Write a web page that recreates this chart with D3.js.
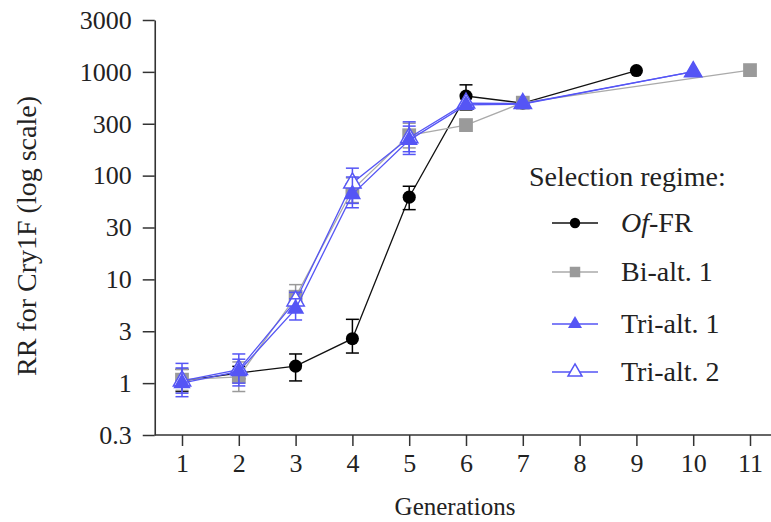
<!DOCTYPE html>
<html>
<head>
<meta charset="utf-8">
<script src="https://cdn.jsdelivr.net/npm/d3@7"></script>
<style>
  body { margin: 0; background: #fff; }
  svg text { font-family: "Liberation Serif", Tinos, "Times New Roman", "DejaVu Serif", serif; fill: #222; }
</style>
</head>
<body>
<div id="chart-area"></div>
<script>
// generations 1..11
var generations = [1, 2, 3, 4, 5, 6, 7, 8, 9, 10, 11];

// y ticks at half decades, labelled as in the figure
var yTickValues = [-0.5, 0, 0.5, 1, 1.5, 2, 2.5, 3, 3.5].map(function(e){ return Math.pow(10, e); });
var yTickLabels = ["0.3", "1", "3", "10", "30", "100", "300", "1000", "3000"];

// series: RR values, lower / upper error bar ends (null = no bar)
var ofGen = [1, 2, 3, 4, 5, 6, 7, 9];
var ofRR  = [1.05, 1.25, 1.46, 2.68, 62, 585, 500, 1030];
var ofLo  = [0.83, 1.1, 1.05, 1.95, 47, 430, null, null];
var ofHi  = [1.36, 1.45, 1.91, 4.12, 79, 750, null, null];

var biGen = [1, 2, 3, 4, 5, 6, 7, 11];
var biRR  = [1.08, 1.15, 6.8, 73, 245, 307, 505, 1040];
var biLo  = [0.85, 0.83, 5.6, 55, 185, null, null, null];
var biHi  = [1.35, 1.6, 8.9, 95, 320, null, null, null];

var tri1Gen = [1, 2, 3, 4, 5, 6, 7, 10];
var tri1RR  = [1.0, 1.3, 5.2, 66, 220, 480, 490, 1005];
var tri1Lo  = [0.74, 0.94, 4.06, 49, 160, null, null, null];
var tri1Hi  = [1.55, 1.91, 6.5, 97, 300, null, null, null];

var tri2Gen = [1, 2, 3, 4, 5, 6, 7, 10];
var tri2RR  = [1.05, 1.35, 6.2, 85, 232, 500, 495, 1005];
var tri2Lo  = [0.8, 1.0, 5.0, 54, 170, null, null, null];
var tri2Hi  = [1.4, 1.7, 7.5, 118, 330, null, null, null];

var seriesNames = ["Of-FR", "Bi-alt. 1", "Tri-alt. 1", "Tri-alt. 2"];

var W = 771, H = 522;
var serif = "'Liberation Serif', Tinos, 'Times New Roman', 'DejaVu Serif', serif";
var svg = d3.select("#chart-area").append("svg")
    .attr("width", W).attr("height", H)
    .attr("font-family", serif);

var x = d3.scaleLinear().domain([1, 11]).range([182, 750]);
var y = d3.scaleLog().domain([yTickValues[0], yTickValues[yTickValues.length - 1]]).range([435, 20]);

var axisColor = "#333";

// x axis
var xAxis = svg.append("g")
    .attr("transform", "translate(0," + y.range()[0] + ")")
    .call(d3.axisBottom(x).tickValues(generations).tickSize(11).tickSizeOuter(0).tickPadding(8));
xAxis.attr("font-family", serif).attr("font-size", 26);
xAxis.select(".domain").remove();
xAxis.append("line")
    .attr("x1", x(0.52)).attr("x2", W)
    .attr("stroke", axisColor).attr("stroke-width", 1.6);
xAxis.selectAll(".tick line").attr("stroke", axisColor).attr("stroke-width", 1.5);
xAxis.selectAll(".tick text").attr("fill", "#222");

// y axis
var yAxis = svg.append("g")
    .attr("transform", "translate(" + x(0.52) + ",0)")
    .call(d3.axisLeft(y).tickValues(yTickValues).tickSize(12).tickSizeOuter(0).tickPadding(11)
        .tickFormat(function(d, i){ return yTickLabels[i]; }));
yAxis.attr("font-family", serif).attr("font-size", 26);
yAxis.select(".domain").attr("stroke", axisColor).attr("stroke-width", 1.6);
yAxis.selectAll(".tick line").attr("stroke", axisColor).attr("stroke-width", 1.5);
yAxis.selectAll(".tick text").attr("fill", "#222");

// axis titles
svg.append("text")
    .attr("x", 455).attr("y", 515)
    .attr("text-anchor", "middle")
    .attr("font-size", "25px")
    .text("Generations");

svg.append("text")
    .attr("transform", "translate(36," + 236 + ") rotate(-90)")
    .attr("text-anchor", "middle")
    .attr("font-size", "28px")
    .text("RR for Cry1F (log scale)");

// series definitions (Tri-alt. 2 drawn under Tri-alt. 1)
var black = "#000", grey = "#9a9a9a", blue = "#5555f5";
var series = [
  {name: seriesNames[0], gen: ofGen, rr: ofRR, lo: ofLo, hi: ofHi, color: black, line: "#111", shape: "circle", fill: black},
  {name: seriesNames[1], gen: biGen, rr: biRR, lo: biLo, hi: biHi, color: grey, line: "#aaa", shape: "square", fill: grey},
  {name: seriesNames[2], gen: tri1Gen, rr: tri1RR, lo: tri1Lo, hi: tri1Hi, color: blue, line: blue, shape: "triangle", fill: blue},
  {name: seriesNames[3], gen: tri2Gen, rr: tri2RR, lo: tri2Lo, hi: tri2Hi, color: blue, line: blue, shape: "triangle", fill: "#fff"}
];
var drawOrder = [0, 1, 3, 2];

function symbolFor(shape, size) {
  var t = shape === "circle" ? d3.symbolCircle : shape === "square" ? d3.symbolSquare : d3.symbolTriangle;
  return d3.symbol().type(t).size(size)();
}

var line = d3.line()
    .x(function(d){ return x(d.g); })
    .y(function(d){ return y(d.v); });

drawOrder.forEach(function(k){
  var s = series[k];
  var pts = s.gen.map(function(g, i){ return {g: g, v: s.rr[i], lo: s.lo[i], hi: s.hi[i]}; });
  var grp = svg.append("g");

  grp.append("path")
      .datum(pts)
      .attr("d", line)
      .attr("fill", "none")
      .attr("stroke", s.line)
      .attr("stroke-width", 1.3);

  var bars = grp.selectAll(".err").data(pts.filter(function(d){ return d.lo !== null; }))
      .enter().append("g").attr("class", "err")
      .attr("stroke", s.color).attr("stroke-width", 1.5);
  bars.append("line")
      .attr("x1", function(d){ return x(d.g); }).attr("x2", function(d){ return x(d.g); })
      .attr("y1", function(d){ return y(d.lo); }).attr("y2", function(d){ return y(d.hi); });
  bars.append("line")
      .attr("x1", function(d){ return x(d.g) - 6.5; }).attr("x2", function(d){ return x(d.g) + 6.5; })
      .attr("y1", function(d){ return y(d.lo); }).attr("y2", function(d){ return y(d.lo); });
  bars.append("line")
      .attr("x1", function(d){ return x(d.g) - 6.5; }).attr("x2", function(d){ return x(d.g) + 6.5; })
      .attr("y1", function(d){ return y(d.hi); }).attr("y2", function(d){ return y(d.hi); });

  grp.selectAll(".pt").data(pts).enter().append("path")
      .attr("class", "pt")
      .attr("transform", function(d){ return "translate(" + x(d.g) + "," + y(d.v) + ")"; })
      .attr("d", symbolFor(s.shape, s.shape === "square" ? 190 : s.shape === "circle" ? 135 : 130))
      .attr("fill", s.fill)
      .attr("stroke", s.color)
      .attr("stroke-width", s.fill === "#fff" ? 1.5 : 0);
});

// legend
var legend = svg.append("g").attr("transform", "translate(529,0)");
legend.append("text")
    .attr("x", 0).attr("y", 186)
    .attr("font-size", "28px")
    .text("Selection regime:");

var rowY = [223, 272, 324, 372];
series.forEach(function(s, i){
  var r = legend.append("g").attr("transform", "translate(0," + rowY[i] + ")");
  r.append("line").attr("x1", 23).attr("x2", 69)
      .attr("stroke", s.line).attr("stroke-width", 1.5);
  r.append("path")
      .attr("transform", "translate(46,0)")
      .attr("d", symbolFor(s.shape, s.shape === "square" ? 110 : 85))
      .attr("fill", s.fill)
      .attr("stroke", s.color)
      .attr("stroke-width", s.fill === "#fff" ? 1.5 : 0);
  var t = r.append("text").attr("x", 92).attr("y", 9).attr("font-size", "28px");
  if (i === 0) {
    t.append("tspan").attr("font-style", "italic").text("Of");
    t.append("tspan").text("-FR");
  } else {
    t.text(s.name);
  }
});
</script>
</body>
</html>
